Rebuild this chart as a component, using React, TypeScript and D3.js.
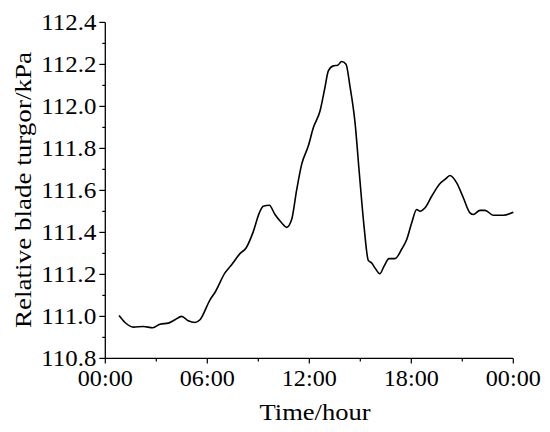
import React, { useRef, useEffect } from "react";
import * as d3 from "d3";

// hours after midnight and relative blade turgor (kPa)
const hours = [
  0.81, 1.16, 1.65, 2.24, 2.79, 3.22, 3.71, 4.1, 4.49, 4.88, 5.28, 5.57, 6.16, 6.45, 7.04, 7.43,
  7.92, 8.28, 8.71, 9.06, 9.29, 9.65, 9.98, 10.38, 10.67, 10.96, 11.26, 11.55, 11.94, 12.24, 12.63,
  12.92, 13.12, 13.41, 13.67, 13.9, 14.16, 14.39, 14.69, 14.94, 15.22, 15.47, 15.67, 15.86, 16.15,
  16.39, 16.69, 17.04, 17.44, 17.73, 18.02, 18.32, 18.51, 18.81, 19.2, 19.69, 19.98, 20.28, 20.67,
  21.06, 21.45, 21.65, 22.04, 22.34, 22.82, 23.41, 24.0,
];
const turgor = [
  111.004, 110.971, 110.949, 110.952, 110.946, 110.963, 110.968, 110.984, 111.0, 110.979, 110.971,
  110.984, 111.079, 111.114, 111.207, 111.246, 111.299, 111.326, 111.405, 111.493, 111.525, 111.529,
  111.485, 111.445, 111.424, 111.461, 111.604, 111.724, 111.811, 111.899, 111.978, 112.09, 112.169,
  112.193, 112.196, 112.214, 112.201, 112.097, 111.923, 111.684, 111.429, 111.267, 111.254, 111.231,
  111.203, 111.238, 111.275, 111.275, 111.321, 111.366, 111.445, 111.509, 111.501, 111.517, 111.572,
  111.633, 111.652, 111.671, 111.636, 111.565, 111.493, 111.485, 111.505, 111.505, 111.482, 111.482,
  111.496,
];
const xTicks = [0, 6, 12, 18, 24];
const xTickLabels = ["00:00", "06:00", "12:00", "18:00", "00:00"];
const yTicks = [110.8, 111.0, 111.2, 111.4, 111.6, 111.8, 112.0, 112.2, 112.4];

const FONT = "'Liberation Serif', 'Times New Roman', serif";

function App() {
  const svgRef = useRef<SVGSVGElement>(null);

  useEffect(() => {
    const svg = d3.select(svgRef.current);
    svg.selectAll("*").remove();

    const x = d3.scaleLinear().domain([0, 24]).range([105.3, 513.3]);
    const y = d3.scaleLinear().domain([110.8, 112.4]).range([358.4, 22.4]);

    const data = hours.map((h, i) => ({ h, v: turgor[i] }));

    // x axis
    const gx = svg.append("g").attr("transform", `translate(0,${y(110.8)})`);
    gx.append("line").attr("x1", x(0)).attr("x2", x(24)).attr("stroke", "#000").attr("stroke-width", 1.3);
    d3.range(0, 25, 3).forEach((t) => {
      const major = t % 6 === 0;
      gx.append("line")
        .attr("x1", x(t)).attr("x2", x(t))
        .attr("y1", 0).attr("y2", major ? 5 : 3)
        .attr("stroke", "#000").attr("stroke-width", 1.2);
    });
    xTicks.forEach((t, i) => {
      gx.append("text")
        .attr("x", x(t)).attr("y", 28)
        .attr("text-anchor", "middle")
        .attr("font-family", FONT).attr("font-size", 23)
        .attr("textLength", 55).attr("lengthAdjust", "spacingAndGlyphs")
        .text(xTickLabels[i]);
    });

    // y axis
    const gy = svg.append("g").attr("transform", `translate(${x(0)},0)`);
    gy.append("line").attr("y1", y(110.8)).attr("y2", y(112.4)).attr("stroke", "#000").attr("stroke-width", 1.3);
    d3.range(0, 17).forEach((k) => {
      const v = 110.8 + k * 0.1;
      gy.append("line")
        .attr("x1", 0).attr("x2", k % 2 === 0 ? -6 : -3)
        .attr("y1", y(v)).attr("y2", y(v))
        .attr("stroke", "#000").attr("stroke-width", 1.2);
    });
    yTicks.forEach((v) => {
      gy.append("text")
        .attr("x", -9).attr("y", y(v) + 7.5)
        .attr("text-anchor", "end")
        .attr("font-family", FONT).attr("font-size", 23)
        .attr("textLength", 55).attr("lengthAdjust", "spacingAndGlyphs")
        .text(v.toFixed(1));
    });

    // line
    const line = d3.line<{ h: number; v: number }>()
      .x((d) => x(d.h))
      .y((d) => y(d.v))
      .curve(d3.curveMonotoneX);
    svg.append("path")
      .datum(data)
      .attr("d", line)
      .attr("fill", "none")
      .attr("stroke", "#000")
      .attr("stroke-width", 1.6)
      .attr("stroke-linejoin", "round");

    // axis titles
    svg.append("text")
      .attr("x", 315).attr("y", 420)
      .attr("text-anchor", "middle")
      .attr("font-family", FONT).attr("font-size", 23)
      .attr("textLength", 111).attr("lengthAdjust", "spacingAndGlyphs")
      .text("Time/hour");
    svg.append("text")
      .attr("transform", `translate(31,190) rotate(-90)`)
      .attr("text-anchor", "middle")
      .attr("font-family", FONT).attr("font-size", 23)
      .attr("textLength", 276).attr("lengthAdjust", "spacingAndGlyphs")
      .text("Relative blade turgor/kPa");
  }, []);

  return (
    <svg
      ref={svgRef}
      width={550}
      height={432}
      style={{ position: "absolute", left: 0, top: 0, background: "#fff" }}
    />
  );
}

export default App;
